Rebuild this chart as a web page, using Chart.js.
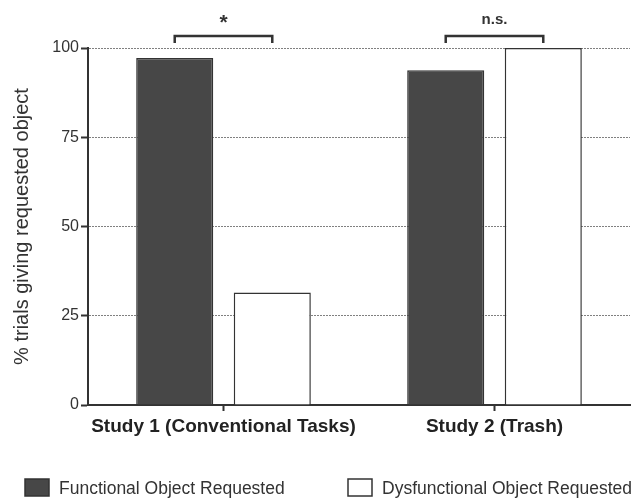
<!DOCTYPE html>
<html>
<head>
<meta charset="utf-8">
<script src="https://cdn.jsdelivr.net/npm/chart.js@4.4.1/dist/chart.umd.min.js"></script>
<style>
  html, body { margin: 0; padding: 0; background: #fff; }
</style>
</head>
<body>
<canvas id="chart" width="640" height="500"></canvas>
<script>
// data
const studies = ["Study 1 (Conventional Tasks)", "Study 2 (Trash)"];
const seriesNames = ["Functional Object Requested", "Dysfunctional Object Requested"];
const functionalPct = [97.2, 93.8];
const dysfunctionalPct = [31.5, 100];
const sigMarks = ["*", "n.s."];
const yTicks = [0, 25, 50, 75, 100];

const INK = "#333333";
const DARK = "#474747";
const FONT = "'Liberation Sans', Arial, Helvetica, sans-serif";

// significance brackets between the two bars of each study
const sigBrackets = {
  id: "sigBrackets",
  afterDatasetsDraw(chart) {
    const ctx = chart.ctx;
    const a = chart.getDatasetMeta(0).data;
    const b = chart.getDatasetMeta(1).data;
    ctx.save();
    ctx.strokeStyle = INK;
    ctx.fillStyle = INK;
    ctx.lineWidth = 2.5;
    ctx.textAlign = "center";
    ctx.textBaseline = "alphabetic";
    sigMarks.forEach((mark, i) => {
      const x1 = a[i].x, x2 = b[i].x;
      ctx.beginPath();
      ctx.moveTo(x1, 43);
      ctx.lineTo(x1, 36);
      ctx.lineTo(x2, 36);
      ctx.lineTo(x2, 43);
      ctx.stroke();
      if (mark === "*") {
        ctx.font = "bold 21px " + FONT;
        ctx.fillText(mark, (x1 + x2) / 2, 29);
      } else {
        ctx.font = "bold 15px " + FONT;
        ctx.fillText(mark, (x1 + x2) / 2, 24);
      }
    });
    ctx.restore();
  }
};

// legend spread across the bottom, as in the figure
const bottomLegend = {
  id: "bottomLegend",
  afterDraw(chart) {
    const ctx = chart.ctx;
    const slots = [25, 348];
    ctx.save();
    ctx.font = "17.5px " + FONT;
    ctx.textBaseline = "middle";
    ctx.textAlign = "left";
    chart.data.datasets.forEach((ds, i) => {
      const x = slots[i];
      ctx.fillStyle = ds.backgroundColor;
      ctx.fillRect(x, 479, 24, 17);
      ctx.strokeStyle = INK;
      ctx.lineWidth = 1.5;
      ctx.strokeRect(x, 479, 24, 17);
      ctx.fillStyle = INK;
      ctx.fillText(ds.label, x + 34, 489);
    });
    ctx.restore();
  }
};

new Chart(document.getElementById("chart"), {
  type: "bar",
  data: {
    labels: studies,
    datasets: [
      {
        label: seriesNames[0],
        data: functionalPct,
        backgroundColor: DARK,
        borderColor: INK,
        borderWidth: 1.5,
      },
      {
        label: seriesNames[1],
        data: dysfunctionalPct,
        backgroundColor: "#ffffff",
        borderColor: INK,
        borderWidth: 1.5,
      }
    ]
  },
  options: {
    responsive: false,
    devicePixelRatio: 1,
    animation: false,
    barPercentage: 0.79,
    categoryPercentage: 0.72,
    layout: { padding: { top: 48, right: 10, left: 0, bottom: 0 } },
    plugins: {
      legend: { display: false },
      tooltip: { enabled: false }
    },
    scales: {
      x: {
        afterFit: (s) => { s.height = 95; },
        grid: {
          offset: false,
          drawOnChartArea: false,
          tickLength: 6,
          tickColor: INK,
          tickWidth: 2,
        },
        border: { color: INK, width: 2 },
        ticks: {
          padding: 4,
          color: "#222",
          font: { family: FONT, size: 19, weight: "bold" }
        }
      },
      y: {
        min: 0,
        max: 100,
        afterFit: (s) => { s.width = 88; },
        afterBuildTicks: (s) => { s.ticks = yTicks.map(v => ({ value: v })); },
        grid: {
          color: (c) => (c.tick && c.tick.value === 0 ? "rgba(0,0,0,0)" : "#808080"),
          lineWidth: 1,
          tickLength: 7,
          tickColor: INK,
          tickWidth: 2,
        },
        border: { color: INK, width: 2, dash: [2, 1] },
        ticks: {
          padding: 2,
          color: "#333",
          font: { family: FONT, size: 16 }
        },
        title: {
          display: true,
          text: "% trials giving requested object",
          color: "#333",
          padding: { top: 10, bottom: 0 },
          font: { family: FONT, size: 20 }
        }
      }
    }
  },
  plugins: [sigBrackets, bottomLegend]
});
</script>
</body>
</html>
